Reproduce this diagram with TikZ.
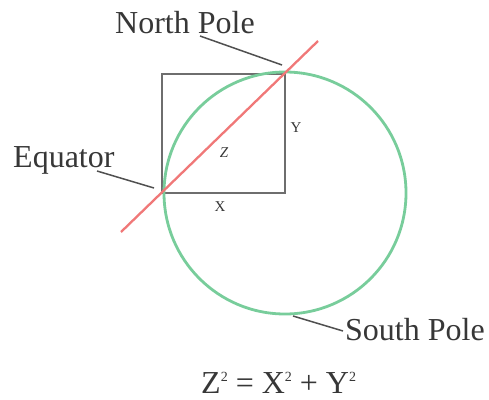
\documentclass[tikz,border=0pt]{standalone}
\usepackage{fontspec}
\setmainfont{Liberation Serif}
\definecolor{sqgray}{RGB}{110,110,110}
\definecolor{leadgray}{RGB}{80,80,80}
\definecolor{circgreen}{RGB}{120,205,155}
\definecolor{linered}{RGB}{240,120,120}
\definecolor{txtgray}{RGB}{55,55,55}
\newcommand{\supsq}{\raisebox{12pt}{\fontsize{14}{14}\selectfont 2}}
\begin{document}
\begin{tikzpicture}[x=1pt,y=-1pt,
  big/.style={font=\fontsize{32}{36}\selectfont, text=txtgray, inner sep=0pt},
  small/.style={font=\fontsize{15}{17}\selectfont, text=txtgray, inner sep=0pt},
  leader/.style={draw=leadgray, line width=1.5pt},
  sq/.style={draw=sqgray, line width=2.4pt},
  circ/.style={draw=circgreen, line width=2.8pt},
  diag/.style={draw=linered, line width=2.3pt}]
\useasboundingbox (0,0) rectangle (489,399);
\coordinate (BL) at (162,193);
\coordinate (TR) at (285,74);
\coordinate (C) at (285,193);
\draw[sq] (BL) rectangle (TR);
\draw[circ] (C) circle[radius=121];
\coordinate (R1) at (121,232);
\coordinate (R2) at (318,41);
\draw[diag] (R1) -- (R2);
\node[big, anchor=base west] (np) at (115,33) {North Pole};
\node[big, anchor=base west] (eq) at (13,167) {Equator};
\node[big, anchor=base west] (sp) at (345,340) {South Pole};
\node[big, anchor=base west] (form) at (201,393) {Z\supsq{} = X\supsq{} + Y\supsq};
\node[small] (y) at (296,128) {Y};
\node[small] (z) at (224,153) {\textit{Z}};
\node[small] (x) at (220,207) {X};
\coordinate (npA) at (200,36);
\coordinate (npB) at (282,65);
\coordinate (eqA) at (97,171);
\coordinate (eqB) at (154,188);
\coordinate (spA) at (293,316);
\coordinate (spB) at (343,331);
\draw[leader] (npA) -- (npB);
\draw[leader] (eqA) -- (eqB);
\draw[leader] (spA) -- (spB);
\end{tikzpicture}
\end{document}
